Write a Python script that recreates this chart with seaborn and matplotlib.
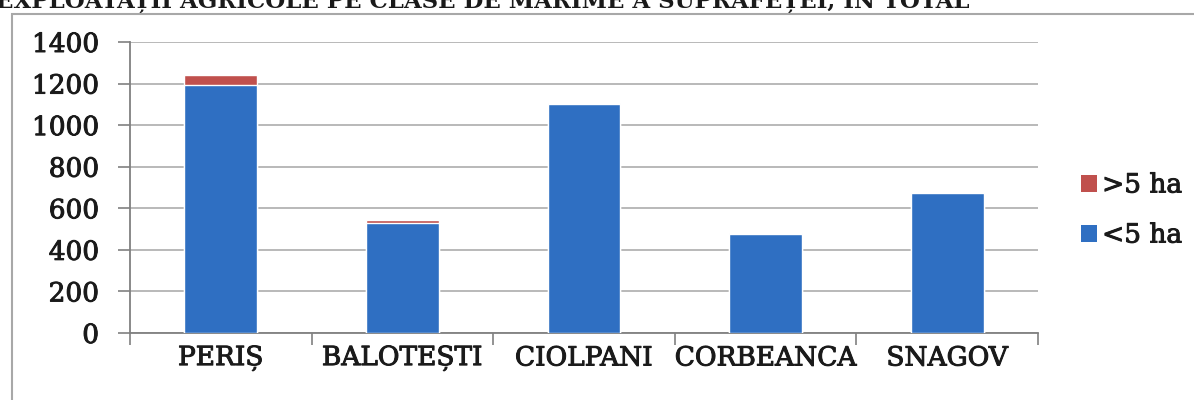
import matplotlib
matplotlib.use("Agg")
import matplotlib.pyplot as plt
import matplotlib.patheffects as pe
import seaborn as sns
import pandas as pd
from matplotlib.patches import Patch, Rectangle

# Farms by size class, per commune
communes = ["PERIȘ", "BALOTEȘTI", "CIOLPANI", "CORBEANCA", "SNAGOV"]
under_5_ha = [1195, 530, 1100, 478, 672]
over_5_ha = [45, 14, 8, 2, 3]
y_ticks = [0, 200, 400, 600, 800, 1000, 1200, 1400]
title = "EXPLOATAȚII AGRICOLE PE CLASE DE MĂRIME A SUPRAFEȚEI, ÎN TOTAL"

BLUE = "#2f6fc2"
RED = "#c0504d"
GRID = "#a6a6a6"
TEXT = "#1a1a1a"
PX = 72 / 100  # points per pixel at 100 dpi

sns.set_theme(style="white")
plt.rcParams["font.family"] = ["DejaVu Serif", "Liberation Serif"]
heavy = [pe.withStroke(linewidth=0.7, foreground=TEXT)]

df = pd.DataFrame({
    "commune": communes,
    "small": under_5_ha,
    "total": [a + b for a, b in zip(under_5_ha, over_5_ha)],
})

fig = plt.figure(figsize=(11.94, 4.0), dpi=100)
ax = fig.add_axes([130 / 1194, 1 - 333 / 400, (1038 - 130) / 1194, (333 - 42) / 400])

# stacked bars: full height in red, the <5 ha part drawn over it in blue
sns.barplot(data=df, x="commune", y="total", color=RED, width=0.4,
            saturation=1, ax=ax, zorder=3)
sns.barplot(data=df, x="commune", y="small", color=BLUE, width=0.4,
            saturation=1, ax=ax, zorder=4)

ax.set_xlim(-0.5, len(communes) - 0.5)
ax.set_ylim(0, 1400)
ax.set_yticks(y_ticks)
ax.set_yticklabels([str(v) for v in y_ticks])
ax.set_xlabel("")
ax.set_ylabel("")

ax.yaxis.grid(True, color=GRID, linewidth=1.1, zorder=0)
ax.set_axisbelow(True)
for s in ["top", "right"]:
    ax.spines[s].set_visible(False)
for s in ["left", "bottom"]:
    ax.spines[s].set_color("#808080")
    ax.spines[s].set_linewidth(1.3)

ax.tick_params(axis="y", which="major", left=True, length=12 * PX, width=1.2,
               color="#808080", labelsize=19, pad=19 * PX, labelcolor=TEXT)
ax.tick_params(axis="x", which="major", bottom=False, labelsize=19, pad=3,
               labelcolor=TEXT)
ax.set_xticks([i - 0.5 for i in range(len(communes) + 1)], minor=True)
ax.tick_params(axis="x", which="minor", bottom=True, length=12 * PX, width=1.2,
               color="#808080", direction="out")
for lbl in ax.get_xticklabels() + ax.get_yticklabels():
    lbl.set_path_effects(heavy)

handles = [Patch(facecolor=RED, edgecolor="none", label=">5 ha"),
           Patch(facecolor=BLUE, edgecolor="none", label="<5 ha")]
leg = fig.legend(handles=handles, loc="center left",
                 bbox_to_anchor=(1081 / 1194, 1 - 210 / 400),
                 frameon=False, fontsize=19, handlelength=0.6, handleheight=0.6,
                 handletextpad=0.2, labelspacing=0.95, borderpad=0,
                 borderaxespad=0)
for t in leg.get_texts():
    t.set_color(TEXT)
    t.set_path_effects(heavy)

# chart area border
fig.patches.append(Rectangle((12 / 1194, -0.1), 1.2, 1 - 14 / 400 + 0.1,
                             transform=fig.transFigure, fill=False,
                             edgecolor="#a8a8a8", linewidth=1.5))

# heading, clipped by the top edge
fig.text(-4 / 1194, 1 - 8 / 400, title, ha="left", va="baseline",
         fontsize=16.5, fontweight="bold", color=TEXT)

fig.savefig("out.png", dpi=100, facecolor="white")
